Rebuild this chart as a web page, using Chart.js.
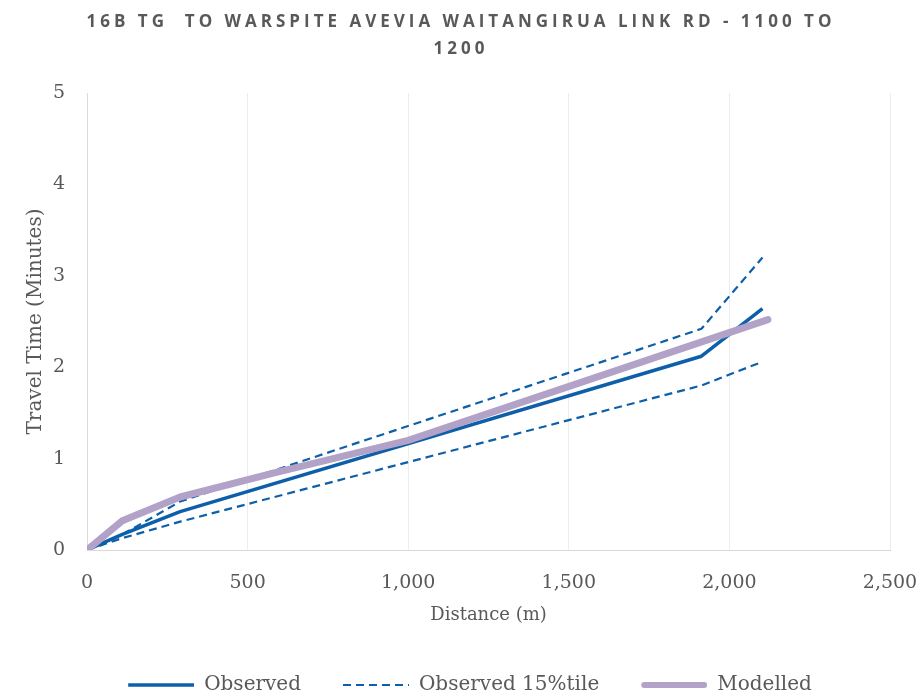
<!DOCTYPE html>
<html>
<head>
<meta charset="utf-8">
<script src="https://cdn.jsdelivr.net/npm/chart.js@4.4.1/dist/chart.umd.min.js"></script>
<style>
  html, body { margin: 0; padding: 0; background: #ffffff; }
  #wrap { position: relative; width: 922px; height: 697px; }
  #chartTitle {
    position: absolute; left: 0; top: 7px; width: 922px;
    text-align: center; white-space: pre;
    font-family: "Open Sans", sans-serif; font-weight: bold; font-size: 17px;
    letter-spacing: 4px; line-height: 27px; color: #595959;
  }
</style>
</head>
<body>
<div id="wrap">
  <canvas id="travelChart" width="922" height="697"></canvas>
  <div id="chartTitle">16B TG  TO WARSPITE AVEVIA WAITANGIRUA LINK RD - 1100 TO
1200</div>
</div>
<script>
// distances (m) and travel times (minutes)
const observedDist = [0, 110, 290, 1913, 2103];
const observedTime = [0, 0.17, 0.42, 2.12, 2.64];

const pctUpperDist = [0, 110, 290, 1913, 2103];
const pctUpperTime = [0, 0.17, 0.53, 2.42, 3.20];

const pctLowerDist = [0, 110, 290, 1913, 2103];
const pctLowerTime = [0, 0.13, 0.31, 1.80, 2.06];

const modelledDist = [0, 110, 290, 580, 1000, 2120];
const modelledTime = [0, 0.32, 0.58, 0.84, 1.20, 2.52];

const xTicks = [0, 500, 1000, 1500, 2000, 2500];
const yTicks = [0, 1, 2, 3, 4, 5];

const blue = '#0E5FA9';
const lavender = '#B3A2C7';
const textColor = '#595959';
const dash = [8, 5];

function toPoints(xs, ys) {
  return xs.map((x, i) => ({ x: x, y: ys[i] }));
}

// legend symbol: a short line with empty space in front of it (gap between entries)
const legendGap = 42;
const legendLine = 66;
function legendIcon(color, width, lineDash, cap) {
  const c = document.createElement('canvas');
  c.width = legendGap + legendLine;
  c.height = 12;
  const ctx = c.getContext('2d');
  ctx.strokeStyle = color;
  ctx.lineWidth = width;
  ctx.lineCap = cap;
  ctx.setLineDash(lineDash);
  const inset = cap === 'round' ? width / 2 : 0;
  ctx.beginPath();
  ctx.moveTo(legendGap + inset, 6);
  ctx.lineTo(legendGap + legendLine - inset, 6);
  ctx.stroke();
  return c;
}

const legendRank = { 'Observed': 0, 'Observed 15%tile': 1, 'Modelled': 2 };

const datasets = [{
  label: 'Observed',
  data: toPoints(observedDist, observedTime),
  borderColor: blue,
  backgroundColor: blue,
  borderWidth: 3.5,
  order: 1
}, {
  label: 'Observed 15%tile',
  data: toPoints(pctUpperDist, pctUpperTime),
  borderColor: blue,
  backgroundColor: blue,
  borderWidth: 2.2,
  borderDash: dash,
  order: 1
}, {
  label: 'Modelled',
  data: toPoints(modelledDist, modelledTime),
  borderColor: lavender,
  backgroundColor: lavender,
  borderWidth: 7,
  borderCapStyle: 'round',
  order: 0
}, {
  label: 'lower',
  data: toPoints(pctLowerDist, pctLowerTime),
  borderColor: blue,
  backgroundColor: blue,
  borderWidth: 2.2,
  borderDash: dash,
  order: 1
}];

const icons = datasets.map(ds =>
  legendIcon(ds.borderColor, Math.min(ds.borderWidth, 6), ds.borderDash || [], ds.borderCapStyle || 'butt'));

new Chart(document.getElementById('travelChart'), {
  type: 'line',
  data: { datasets: datasets },
  options: {
    responsive: false,
    animation: false,
    elements: {
      point: { radius: 0 },
      line: { tension: 0, borderJoinStyle: 'round', fill: false }
    },
    layout: {
      padding: { top: 93, left: 8, right: 32, bottom: -8 }
    },
    plugins: {
      title: { display: false },
      tooltip: { enabled: false },
      legend: {
        position: 'bottom',
        labels: {
          color: textColor,
          font: { family: 'DejaVu Serif', size: 20 },
          usePointStyle: true,
          pointStyleWidth: legendGap + legendLine,
          padding: 0,
          generateLabels: chart => Chart.defaults.plugins.legend.labels.generateLabels(chart)
            .map(item => { item.pointStyle = icons[item.datasetIndex]; return item; }),
          filter: item => item.text !== 'lower',
          sort: (a, b) => legendRank[a.text] - legendRank[b.text]
        }
      }
    },
    scales: {
      x: {
        type: 'linear',
        min: 0,
        max: 2500,
        afterBuildTicks: axis => { axis.ticks = xTicks.map(v => ({ value: v })); },
        afterFit: axis => {
          axis.height = 125;
          axis.paddingLeft = 0;
          axis.paddingRight = 0;
        },
        ticks: {
          color: textColor,
          font: { family: 'DejaVu Serif', size: 19 },
          padding: 22,
          callback: val => val.toLocaleString('en-US')
        },
        grid: { color: '#EDEDED', lineWidth: 1, drawTicks: false },
        border: { color: '#D9D9D9', width: 1 },
        title: {
          display: true,
          text: 'Distance (m)',
          color: textColor,
          font: { family: 'DejaVu Serif', size: 18 },
          padding: { top: 0, bottom: 49 }
        }
      },
      y: {
        type: 'linear',
        min: 0,
        max: 5,
        afterBuildTicks: axis => { axis.ticks = yTicks.map(v => ({ value: v })); },
        afterFit: axis => { axis.width = 79; },
        ticks: {
          color: textColor,
          font: { family: 'DejaVu Serif', size: 19 },
          padding: 22
        },
        grid: { color: 'rgba(0,0,0,0)', drawTicks: false },
        border: { color: '#D9D9D9', width: 1 },
        title: {
          display: true,
          text: 'Travel Time (Minutes)',
          color: textColor,
          font: { family: 'DejaVu Serif', size: 20 },
          padding: { top: 16, bottom: 0 }
        }
      }
    }
  }
});
</script>
</body>
</html>
